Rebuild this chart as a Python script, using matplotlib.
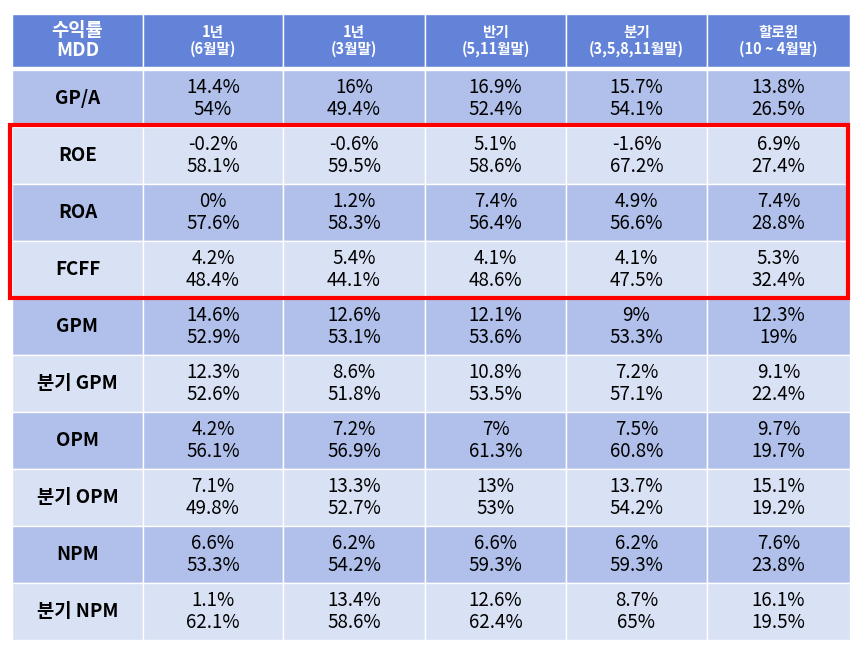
import matplotlib
matplotlib.use("Agg")
import matplotlib.pyplot as plt
from matplotlib.patches import Rectangle

plt.rcParams["font.family"] = ["Noto Sans CJK KR", "DejaVu Sans"]

header = ["수익률\nMDD", "1년\n(6월말)", "1년\n(3월말)", "반기\n(5,11월말)",
          "분기\n(3,5,8,11월말)", "할로윈\n(10 ~ 4월말)"]
row_names = ["GP/A", "ROE", "ROA", "FCFF", "GPM", "분기 GPM", "OPM", "분기 OPM", "NPM", "분기 NPM"]
returns = [
    ["14.4%", "16%", "16.9%", "15.7%", "13.8%"],
    ["-0.2%", "-0.6%", "5.1%", "-1.6%", "6.9%"],
    ["0%", "1.2%", "7.4%", "4.9%", "7.4%"],
    ["4.2%", "5.4%", "4.1%", "4.1%", "5.3%"],
    ["14.6%", "12.6%", "12.1%", "9%", "12.3%"],
    ["12.3%", "8.6%", "10.8%", "7.2%", "9.1%"],
    ["4.2%", "7.2%", "7%", "7.5%", "9.7%"],
    ["7.1%", "13.3%", "13%", "13.7%", "15.1%"],
    ["6.6%", "6.2%", "6.6%", "6.2%", "7.6%"],
    ["1.1%", "13.4%", "12.6%", "8.7%", "16.1%"],
]
mdd = [
    ["54%", "49.4%", "52.4%", "54.1%", "26.5%"],
    ["58.1%", "59.5%", "58.6%", "67.2%", "27.4%"],
    ["57.6%", "58.3%", "56.4%", "56.6%", "28.8%"],
    ["48.4%", "44.1%", "48.6%", "47.5%", "32.4%"],
    ["52.9%", "53.1%", "53.6%", "53.3%", "19%"],
    ["52.6%", "51.8%", "53.5%", "57.1%", "22.4%"],
    ["56.1%", "56.9%", "61.3%", "60.8%", "19.7%"],
    ["49.8%", "52.7%", "53%", "54.2%", "19.2%"],
    ["53.3%", "54.2%", "59.3%", "59.3%", "23.8%"],
    ["62.1%", "58.6%", "62.4%", "65%", "19.5%"],
]
highlight = [1, 2, 3]

col_x = [12, 143, 283, 425, 566, 707, 850]
head_top, head_bot = 14, 67
row_top, row_h = 70, 57

fig = plt.figure(figsize=(8.62, 6.48), dpi=100)
ax = fig.add_axes([0, 0, 1, 1])
ax.set_xlim(0, 862)
ax.set_ylim(648, 0)
ax.axis("off")

head_c = "#6383d8"
dark_c = "#b0c0ea"
light_c = "#d9e1f4"

for j, h in enumerate(header):
    x0, x1 = col_x[j], col_x[j + 1]
    ax.add_patch(Rectangle((x0, head_top), x1 - x0, head_bot - head_top,
                           facecolor=head_c, edgecolor="white", lw=1))
    big = j == 0
    ax.text((x0 + x1) / 2, (head_top + head_bot) / 2, h, ha="center", va="center",
            color="white", fontsize=13.5 if big else 10.5, fontweight="bold",
            linespacing=1.1)

for i, name in enumerate(row_names):
    y0 = row_top + i * row_h
    fc = dark_c if i % 2 == 0 else light_c
    cells = [name] + [f"{r}\n{m}" for r, m in zip(returns[i], mdd[i])]
    for j, txt in enumerate(cells):
        x0, x1 = col_x[j], col_x[j + 1]
        ax.add_patch(Rectangle((x0, y0), x1 - x0, row_h,
                               facecolor=fc, edgecolor="white", lw=1))
        ax.text((x0 + x1) / 2, y0 + row_h / 2, txt, ha="center", va="center",
                color="black", fontsize=13.5, fontweight="bold" if j == 0 else "medium",
                linespacing=1.1)

ax.add_patch(Rectangle((10, row_top + highlight[0] * row_h - 2), 838,
                       len(highlight) * row_h + 2, facecolor="none",
                       edgecolor="#ff0000", lw=3, zorder=5))

fig.savefig("out.png", dpi=100)
